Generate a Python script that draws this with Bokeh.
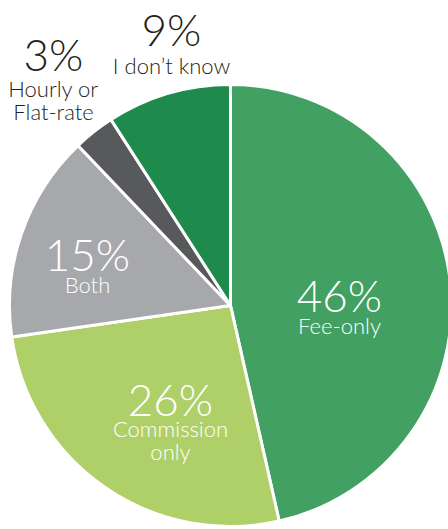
import math
from bokeh.plotting import figure
from bokeh.models import ColumnDataSource, Range1d
from bokeh.core.properties import value
from bokeh.embed import file_html
from bokeh.resources import INLINE

# ---- data (clockwise from 12 o'clock) ----
categories = ["Fee-only", "Commission only", "Both", "Hourly or Flat-rate", "I don\u2019t know"]
values = [46, 26, 15, 3, 9]
pct_labels = ["46%", "26%", "15%", "3%", "9%"]
name_lines = [["Fee-only"], ["Commission", "only"], ["Both"], ["Hourly or", "Flat-rate"], ["I don\u2019t know"]]

# ---- style / layout ----
colors = ["#41a062", "#afd068", "#a7a8ab", "#58595b", "#1e8a4c"]
text_colors = ["white", "white", "white", "#231f20", "#231f20"]
W, H = 448, 529
cx, cy, R = 230, 305, 221          # pixel coords (top-down y)
# label anchors: (x center, pct baseline, first-name baseline, line step)
label_pos = [(339, 309, 334, 24), (170, 413, 437, 23), (87, 268, 293, 24),
             (53, 68, 97, 23), (171, 43, 74, 23)]
PCT_SHIFT, NAME_SHIFT = 15, 9     # correction for baseline rendering
FONT = "Lato Light"

total = float(sum(values))
starts, ends = [], []
acc = 0.0
for v in values:
    starts.append(math.pi / 2 - 2 * math.pi * acc / total)
    acc += v
    ends.append(math.pi / 2 - 2 * math.pi * acc / total)

src = ColumnDataSource(dict(cat=categories, val=values, start=starts, end=ends, color=colors))

p = figure(width=W, height=H, x_range=Range1d(0, W), y_range=Range1d(0, H),
           output_backend="svg", toolbar_location=None, min_border=0)
p.axis.visible = False
p.grid.visible = False
p.outline_line_color = None
p.background_fill_color = "white"

p.wedge(x=cx, y=H - cy, radius=R, start_angle="start", end_angle="end", direction="clock",
        fill_color="color", line_color="white", line_width=3, source=src)

# percent labels
px, py, pc = [], [], []
for (x, yb, _, _), lab, tc in zip(label_pos, pct_labels, text_colors):
    px.append(x); py.append(H - (yb - PCT_SHIFT)); pc.append(tc)
p.text(x=px, y=py, text=pct_labels, text_color=pc, text_font=value(FONT),
       text_font_size="44px", text_align="center", text_baseline="alphabetic")

# category name labels
nx, ny, nt, nc = [], [], [], []
for (x, _, yb, step), lines, tc in zip(label_pos, name_lines, text_colors):
    for i, ln in enumerate(lines):
        nx.append(x); ny.append(H - (yb - NAME_SHIFT + i * step)); nt.append(ln); nc.append(tc)
p.text(x=nx, y=ny, text=nt, text_color=nc, text_font=value(FONT),
       text_font_size="22px", text_align="center", text_baseline="alphabetic")

open("out.html", "w").write(file_html(p, INLINE))
